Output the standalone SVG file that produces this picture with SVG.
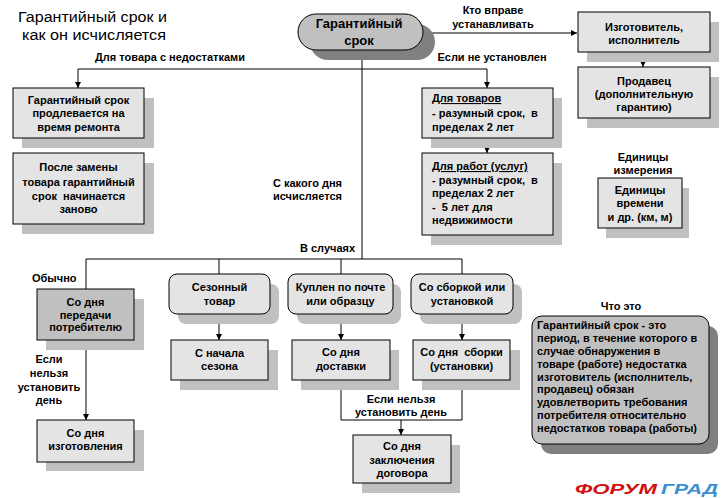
<svg xmlns="http://www.w3.org/2000/svg" width="721" height="498" viewBox="0 0 721 498">
<defs>
<style>
.t{font-family:"Liberation Sans",Arial,sans-serif;font-size:11px;font-weight:bold;fill:#000}
.c{text-anchor:middle}
.ttl{font-family:"Liberation Sans",Arial,sans-serif;font-size:14px;fill:#000}
.box{fill:#e4e4e4;stroke:#000;stroke-width:1}
.dark{fill:#c0c0c0;stroke:#000;stroke-width:1}
.sh{fill:#c0c0c0}
.shd{fill:#808080}
.ln{fill:none;stroke:#000;stroke-width:1}
.u{text-decoration:underline}
.logo{font-family:"Liberation Sans",Arial,sans-serif;font-size:15px;font-weight:bold;font-style:italic}
</style>
<marker id="ar" markerWidth="6" markerHeight="6" refX="6" refY="3" orient="auto" markerUnits="userSpaceOnUse">
<path d="M0,0 L6,3 L0,6 Z" fill="#000"/>
</marker>
</defs>
<rect width="721" height="498" fill="#fff"/>

<g id="title">
<text class="ttl" x="18" y="22" textLength="149" lengthAdjust="spacingAndGlyphs">Гарантийный срок и</text>
<text class="ttl" x="22" y="40" textLength="144" lengthAdjust="spacingAndGlyphs">как он исчисляется</text>
</g>

<g id="connectors">
<path class="ln" d="M423,33 H577" marker-end="url(#ar)"/>
<path class="ln" d="M643,52 V67" marker-end="url(#ar)"/>
<path class="ln" d="M362,50 V259"/>
<path class="ln" d="M78,69 H487"/>
<path class="ln" d="M78,69 V88" marker-end="url(#ar)"/>
<path class="ln" d="M487,69 V88" marker-end="url(#ar)"/>
<path class="ln" d="M487,138 V153" marker-end="url(#ar)"/>
<path class="ln" d="M86,259 H462"/>
<path class="ln" d="M86,259 V289"/>
<path class="ln" d="M219,259 V274"/>
<path class="ln" d="M341,259 V274"/>
<path class="ln" d="M462,259 V274"/>
<path class="ln" d="M86,340 V420" marker-end="url(#ar)"/>
<path class="ln" d="M219,314 V340" marker-end="url(#ar)"/>
<path class="ln" d="M341,314 V340" marker-end="url(#ar)"/>
<path class="ln" d="M462,314 V340" marker-end="url(#ar)"/>
<path class="ln" d="M341,380 V420 H462 V380"/>
<path class="ln" d="M401,420 V435" marker-end="url(#ar)"/>
</g>

<g id="labels">
<text class="t c" x="493" y="14">Кто вправе</text>
<text class="t c" x="493" y="28">устанавливать</text>
<text class="t c" x="170" y="61">Для товара с недостатками</text>
<text class="t c" x="492" y="61">Если не установлен</text>
<text class="t" x="273" y="187">С какого дня</text>
<text class="t" x="273" y="200">исчисляется</text>
<text class="t" x="300" y="252">В случаях</text>
<text class="t" x="32" y="282">Обычно</text>
<text class="t c" x="49" y="363">Если</text>
<text class="t c" x="49" y="377">нельзя</text>
<text class="t c" x="49" y="391">установить</text>
<text class="t c" x="49" y="404">день</text>
<text class="t c" x="401" y="403">Если нельзя</text>
<text class="t c" x="401" y="416">установить день</text>
<text class="t c" x="643" y="161">Единицы</text>
<text class="t c" x="643" y="174">измерения</text>
<text class="t c" x="621" y="310">Что это</text>
</g>

<g id="n-main">
<rect class="shd" x="310" y="24" width="125" height="36" rx="18"/>
<rect class="dark" x="298" y="14" width="125" height="36" rx="18"/>
<text class="t c" style="font-size:13px" x="359" y="28">Гарантийный</text>
<text class="t c" style="font-size:13px" x="359" y="45">срок</text>
</g>

<g id="n-izg">
<rect class="sh" x="587" y="22" width="132" height="40"/>
<rect class="box" x="578" y="12" width="132" height="40"/>
<text class="t c" x="644" y="31">Изготовитель,</text>
<text class="t c" x="644" y="44">исполнитель</text>
</g>

<g id="n-prod">
<rect class="sh" x="587" y="77" width="132" height="51"/>
<rect class="box" x="578" y="67" width="132" height="51"/>
<text class="t c" x="644" y="85">Продавец</text>
<text class="t c" x="644" y="98">(дополнительную</text>
<text class="t c" x="644" y="111">гарантию)</text>
</g>

<g id="n-remont">
<rect class="sh" x="22" y="98" width="132" height="50"/>
<rect class="box" x="13" y="88" width="131" height="50"/>
<text class="t c" x="78.5" y="104">Гарантийный срок</text>
<text class="t c" x="78.5" y="117">продлевается на</text>
<text class="t c" x="78.5" y="131">время ремонта</text>
</g>

<g id="n-zamena">
<rect class="sh" x="22" y="163" width="132" height="71"/>
<rect class="box" x="13" y="153" width="131" height="71"/>
<text class="t c" x="78.5" y="171">После замены</text>
<text class="t c" x="78.5" y="186">товара гарантийный</text>
<text class="t c" x="78.5" y="200" xml:space="preserve">срок  начинается</text>
<text class="t c" x="78.5" y="213">заново</text>
</g>

<g id="n-tovary">
<rect class="sh" x="431" y="98" width="131" height="50"/>
<rect class="box" x="422" y="88" width="131" height="50"/>
<text class="t u" x="432" y="102">Для товаров</text>
<text class="t" x="432" y="117" xml:space="preserve">- разумный срок,  в</text>
<text class="t" x="432" y="131">пределах 2 лет</text>
</g>

<g id="n-raboty">
<rect class="sh" x="431" y="163" width="131" height="82"/>
<rect class="box" x="422" y="153" width="131" height="82"/>
<text class="t u" x="432" y="170">Для работ (услуг)</text>
<text class="t" x="432" y="184" xml:space="preserve">- разумный срок,  в</text>
<text class="t" x="432" y="197">пределах 2 лет</text>
<text class="t" x="432" y="211" xml:space="preserve">-  5 лет для</text>
<text class="t" x="432" y="224">недвижимости</text>
</g>

<g id="n-edinicy">
<rect class="sh" x="606" y="188" width="83" height="50"/>
<rect class="box" x="598" y="178" width="84" height="50"/>
<text class="t c" x="640" y="194">Единицы</text>
<text class="t c" x="640" y="207">времени</text>
<text class="t c" x="640" y="221">и др. (км, м)</text>
</g>

<g id="n-peredachi">
<rect class="sh" x="46" y="299" width="98" height="51"/>
<rect class="dark" x="37" y="289" width="97" height="51"/>
<text class="t c" x="85.5" y="306">Со дня</text>
<text class="t c" x="85.5" y="319">передачи</text>
<text class="t c" x="85.5" y="331">потребителю</text>
</g>

<g id="n-izgotovleniya">
<rect class="sh" x="46" y="430" width="98" height="41"/>
<rect class="box" x="37" y="420" width="97" height="42"/>
<text class="t c" x="85.5" y="437">Со дня</text>
<text class="t c" x="85.5" y="450">изготовления</text>
</g>

<g id="n-sezon">
<rect class="sh" x="178" y="284" width="101" height="40" rx="8"/>
<rect class="box" x="169" y="274" width="101" height="40" rx="8"/>
<text class="t c" x="219.5" y="291">Сезонный</text>
<text class="t c" x="219.5" y="305">товар</text>
</g>

<g id="n-nachala">
<rect class="sh" x="180" y="350" width="98" height="40"/>
<rect class="box" x="171" y="340" width="97" height="40"/>
<text class="t c" x="219.5" y="357">С начала</text>
<text class="t c" x="219.5" y="370">сезона</text>
</g>

<g id="n-pochta">
<rect class="sh" x="297" y="284" width="104" height="40" rx="8"/>
<rect class="box" x="288" y="274" width="105" height="40" rx="8"/>
<text class="t c" x="340.5" y="291">Куплен по почте</text>
<text class="t c" x="340.5" y="305">или образцу</text>
</g>

<g id="n-sborka">
<rect class="sh" x="420" y="284" width="102" height="40" rx="8"/>
<rect class="box" x="411" y="274" width="102" height="40" rx="8"/>
<text class="t c" x="462" y="291">Со сборкой или</text>
<text class="t c" x="462" y="305">установкой</text>
</g>

<g id="n-dostavki">
<rect class="sh" x="301" y="350" width="98" height="40"/>
<rect class="box" x="292" y="340" width="98" height="40"/>
<text class="t c" x="341" y="356">Со дня</text>
<text class="t c" x="341" y="370">доставки</text>
</g>

<g id="n-sborki">
<rect class="sh" x="422" y="350" width="98" height="40"/>
<rect class="box" x="413" y="340" width="97" height="40"/>
<text class="t c" x="461.5" y="356" xml:space="preserve">Со дня  сборки</text>
<text class="t c" x="461.5" y="370">(установки)</text>
</g>

<g id="n-dogovora">
<rect class="sh" x="362" y="445" width="98" height="48"/>
<rect class="box" x="353" y="435" width="98" height="48"/>
<text class="t c" x="402" y="450">Со дня</text>
<text class="t c" x="402" y="464">заключения</text>
<text class="t c" x="402" y="477">договора</text>
</g>

<g id="n-chto">
<rect class="shd" x="541" y="326" width="177" height="128" rx="10"/>
<rect class="dark" x="532" y="316" width="177" height="128" rx="10"/>
<text class="t" x="537" y="329">Гарантийный срок - это</text>
<text class="t" x="537" y="342">период, в течение которого в</text>
<text class="t" x="537" y="355">случае обнаружения в</text>
<text class="t" x="537" y="368">товаре (работе) недостатка</text>
<text class="t" x="537" y="381">изготовитель (исполнитель,</text>
<text class="t" x="537" y="393">продавец) обязан</text>
<text class="t" x="537" y="406">удовлетворить требования</text>
<text class="t" x="537" y="419">потребителя относительно</text>
<text class="t" x="537" y="432">недостатков товара (работы)</text>
</g>

<g id="logo">
<text class="logo" x="575" y="494" fill="#d01010" textLength="82" lengthAdjust="spacingAndGlyphs">ФОРУМ</text>
<text class="logo" x="661" y="494" fill="#3a8fd0" textLength="57" lengthAdjust="spacingAndGlyphs">ГРАД</text>
</g>
</svg>
